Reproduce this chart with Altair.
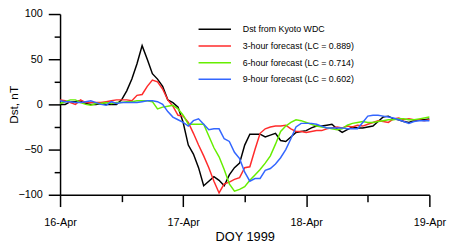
import altair as alt
import pandas as pd

hours = list(range(0, 73))

dst_kyoto = [0, 0, 3, 3, 4, 1, 0, 0, 1, 0, 0, 0, 5, 15, 28, 45, 65, 50, 34, 28,
             20, 5, 2, -3, -20, -45, -55, -70, -90, -85, -80, -84, -90, -78, -70, -65, -45, -33, -33, -33,
             -36, -34, -32, -40, -41, -36, -31, -30, -29, -26, -24, -24, -23, -22, -27, -31, -28, -25, -26, -26,
             -25, -24, -19, -14, -13, -16, -17, -19, -20, -18, -17, -17, -16]
fc3 = [5, 4, 2, 0, 5, 2, 2, 2, 2, 3, 4, 5, 5, 5, 4, 10, 11, 20, 27, 25,
       17, 5, -2, -12, -13, -20, -32, -45, -57, -70, -85, -98, -88, -86, -83, -81, -70, -69, -50, -32,
       -27, -25, -24, -24, -23, -27, -30, -30, -31, -30, -29, -29, -27, -26, -25, -26, -24, -25, -23, -24,
       -22, -20, -18, -19, -20, -16, -15, -17, -16, -17, -17, -18, -17]
fc6 = [1, 3, 5, 5, 2, 0, -1, 1, 1, 2, 1, 2, 2, 3, 3, 4, 4, 4, 3, -5,
       -3, -2, -1, -5, -12, -22, -22, -22, -22, -35, -48, -58, -72, -88, -96, -94, -91, -84, -78, -72,
       -65, -57, -44, -30, -24, -20, -17, -18, -20, -22, -24, -25, -26, -27, -28, -27, -23, -21, -20, -19,
       -20, -20, -19, -18, -17, -17, -16, -16, -17, -17, -16, -15, -14]
fc9 = [4, 3, 3, 2, 2, 3, 4, 2, 0, -1, 3, 1, 2, 2, 2, 2, 3, 4, 4, 3,
       0, -8, -14, -17, -20, -24, -18, -16, -22, -28, -27, -27, -38, -41, -53, -60, -75, -85, -82, -82,
       -73, -71, -66, -59, -50, -38, -25, -21, -21, -21, -22, -24, -26, -26, -26, -26, -27, -27, -27, -20,
       -13, -12, -12, -13, -14, -15, -17, -19, -21, -19, -18, -18, -18]

series_names = ["Dst from Kyoto WDC", "3-hour forecast (LC = 0.889)",
                "6-hour forecast (LC = 0.714)", "9-hour forecast (LC = 0.602)"]
series_colors = ["#000000", "#ff2b2b", "#66ee00", "#3366ff"]
day_labels = ["16-Apr", "17-Apr", "18-Apr", "19-Apr"]
x_tick_values = [0, 12, 24, 36, 48, 60, 72]
y_tick_values = [-100, -75, -50, -25, 0, 25, 50, 75, 100]

rows = []
for name, vals in zip(series_names, [dst_kyoto, fc3, fc6, fc9]):
    for h, v in zip(hours, vals):
        rows.append({"hour": h, "Dst": v, "series": name})
df = pd.DataFrame(rows)

FONT = "Liberation Sans"
label_arr = "[" + ",".join("'%s'" % d for d in day_labels) + "]"
name_arr = "[" + ",".join("'%s'" % s for s in series_names) + "]"

chart = alt.Chart(df).mark_line(strokeWidth=1.5).encode(
    x=alt.X("hour:Q",
            scale=alt.Scale(domain=[0, 72], nice=False, zero=False),
            axis=alt.Axis(values=x_tick_values, title="DOY 1999", grid=False,
                          labelExpr="datum.value % 24 === 0 ? " + label_arr + "[datum.value / 24] : ''",
                          tickSize={"condition": {"test": "datum.value % 24 === 0", "value": 12}, "value": 7},
                          labelFontSize=11, titleFontSize=13, titleFontWeight="normal",
                          labelPadding=10, titlePadding=4, labelFont=FONT, titleFont=FONT,
                          domainColor="black", tickColor="black", labelColor="black",
                          titleColor="black", domainWidth=1.5, tickWidth=1.5,
                          labelFlush=False, labelOverlap=False)),
    y=alt.Y("Dst:Q",
            scale=alt.Scale(domain=[-100, 100], nice=False),
            axis=alt.Axis(values=y_tick_values, title="Dst, nT", grid=False,
                          labelExpr="datum.value % 50 === 0 ? datum.label : ''",
                          tickSize={"condition": {"test": "datum.value % 50 === 0", "value": 12}, "value": 6},
                          labelFontSize=11, titleFontSize=12, titleFontWeight="normal",
                          labelPadding=6, titlePadding=-2, labelFont=FONT, titleFont=FONT,
                          domainColor="black", tickColor="black", labelColor="black",
                          titleColor="black", domainWidth=1.5, tickWidth=1.5,
                          labelOverlap=False)),
    color=alt.Color("series:N",
                    scale=alt.Scale(domain=series_names, range=series_colors),
                    sort=series_names,
                    legend=alt.Legend(title=None, orient="none", legendX=151, legendY=9,
                                      symbolType="M-3,0H3", symbolSize=121,
                                      symbolStrokeWidth=1.5, symbolFillColor="transparent",
                                      labelFontSize=9, labelFont=FONT,
                                      labelColor="black", labelOffset=22, rowPadding=5,
                                      padding=0)),
    order=alt.Order("series_order:Q"),
).transform_calculate(
    series_order="indexof(" + name_arr + ", datum.series) * -1"
).properties(
    width=376, height=184,
    padding={"left": 53, "top": 4, "right": 21, "bottom": 49},
    autosize=alt.AutoSizeParams(type="none"),
).configure_view(stroke=None)

chart.save("out.html", embed_options={"renderer": "svg", "actions": False})
